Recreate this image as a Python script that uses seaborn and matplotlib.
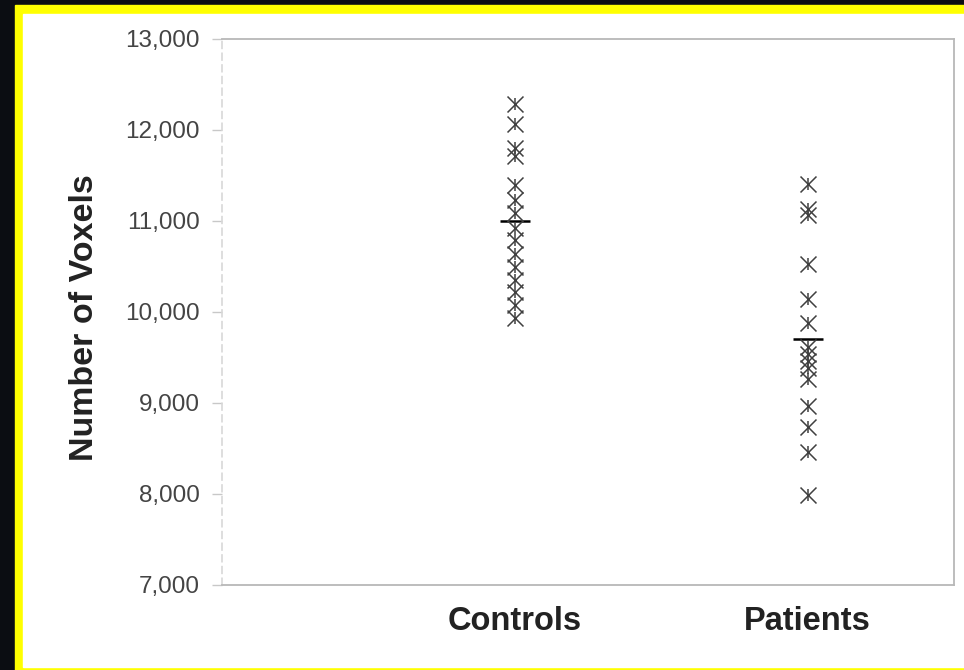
import matplotlib.pyplot as plt
import seaborn as sns
import pandas as pd
from matplotlib.patches import Rectangle
from matplotlib.ticker import FuncFormatter

# values (number of voxels per subject)
groups = ['Controls', 'Patients']
controls = [12290, 12070, 11800, 11710, 11400, 11230, 11090, 10920,
            10790, 10640, 10500, 10350, 10220, 10080, 9930]
patients = [11410, 11130, 11070, 10530, 10140, 9880, 9620, 9540,
            9460, 9380, 9260, 8970, 8740, 8460, 7990]
yticks = [7000, 8000, 9000, 10000, 11000, 12000, 13000]

df = pd.DataFrame({
    'group': ['Controls'] * len(controls) + ['Patients'] * len(patients),
    'voxels': controls + patients,
})

sns.set_theme(style='white')
plt.rcParams['font.family'] = ['Liberation Sans', 'DejaVu Sans']

fig = plt.figure(figsize=(9.64, 6.70), dpi=100, facecolor='#0b0d12')
# yellow frame + white slide area (behind the axes)
fig.patches.append(Rectangle((15 / 964, -0.1), 1, 0.1 + 665 / 670,
                             transform=fig.transFigure, color='#ffff00', zorder=-20))
fig.patches.append(Rectangle((23 / 964, 3 / 670), 1, 653 / 670,
                             transform=fig.transFigure, color='white', zorder=-10))

ax = fig.add_axes([222 / 964, 85 / 670, 732 / 964, 546 / 670])
ax.set_facecolor('white')

# asterisk markers = x + short vertical bar
sns.stripplot(data=df, x='group', y='voxels', order=groups, jitter=False,
              marker='x', color='#404040', size=11.5, linewidth=1.1, ax=ax)
sns.stripplot(data=df, x='group', y='voxels', order=groups, jitter=False,
              marker='|', color='#404040', size=9, linewidth=1.1, ax=ax)
# group means
sns.pointplot(data=df, x='group', y='voxels', order=groups, errorbar=None,
              linestyle='none', marker='_', markersize=22, markeredgewidth=1.8,
              color='black', ax=ax)

ax.set_xlim(-1.0, 1.5)
ax.set_ylim(7000, 13000)
ax.set_yticks(yticks)
ax.yaxis.set_major_formatter(FuncFormatter(lambda v, p: f'{int(v):,}'))

ax.tick_params(axis='y', left=True, length=7, width=1, color='#c8c8c8',
               labelsize=17.5, labelcolor='#444444', pad=9)
ax.tick_params(axis='x', length=0, labelsize=23.5, labelcolor='#222222', pad=15)
for lab in ax.get_xticklabels():
    lab.set_fontweight('bold')

for s in ['top', 'right', 'bottom']:
    ax.spines[s].set_color('#b8b8b8')
    ax.spines[s].set_linewidth(1.3)
ax.spines['left'].set_color('#d8d8d8')
ax.spines['left'].set_linestyle((0, (4, 3)))
ax.spines['left'].set_linewidth(1.2)

ax.set_xlabel('')
ax.set_ylabel('Number of Voxels', fontsize=24.5, fontweight='bold', color='#222222')
ax.yaxis.set_label_coords(-0.166, 0.49)

fig.savefig('out.png', dpi=100, facecolor=fig.get_facecolor())
